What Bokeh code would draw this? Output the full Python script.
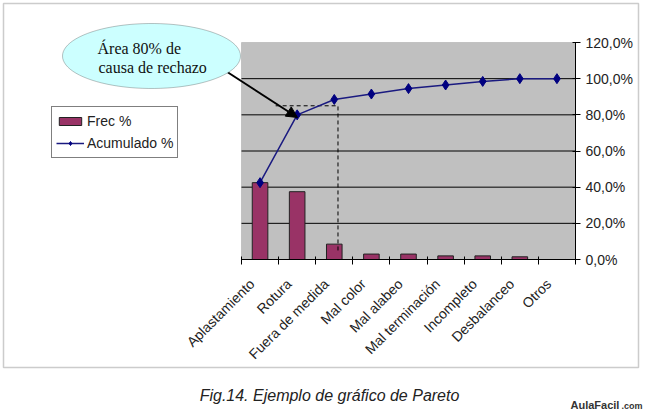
import math
import numpy as np
from bokeh.plotting import figure
from bokeh.models import (Range1d, FixedTicker, CustomJSTickFormatter, Legend, LegendItem,
                          Label, PolyAnnotation, Arrow, NormalHead, ColumnDataSource,
                          LinearAxis, BoxAnnotation)
from bokeh.embed import file_html
from bokeh.resources import INLINE

# ---- data ----
categories = ["Aplastamiento", "Rotura", "Fuera de medida", "Mal color", "Mal alabeo",
              "Mal terminación", "Incompleto", "Desbalanceo", "Otros"]
frec = [42.5, 37.5, 8.5, 3.0, 3.0, 2.0, 2.0, 1.5, 0.0]
acumulado = [42.5, 80.0, 88.5, 91.5, 94.5, 96.5, 98.5, 100.0, 100.0]
y_ticks = [0, 20, 40, 60, 80, 100, 120]

# ---- layout constants (canvas pixels) ----
W, H = 650, 413
FL, FR, FT, FB = 241, 575, 42, 259   # plot-area left/right/top/bottom in canvas pixels
NCAT = len(categories)
YMAX = 120
LABEL_SHIFT = 0.22                   # category labels sit slightly left of the bar centre

kx = NCAT / (FR - FL)
ky = YMAX / (FB - FT)
x_range = Range1d(-FL * kx, NCAT + (W - FR) * kx)
y_range = Range1d(-(H - FB) * ky, YMAX + FT * ky)


def sx(X):
    return X


def sy(Y):
    return H - Y


xc = [i + 0.5 for i in range(NCAT)]
src = ColumnDataSource(dict(x=xc, frec=frec, acum=acumulado))

p = figure(width=W, height=H, output_backend="svg", toolbar_location=None,
           x_range=x_range, y_range=y_range,
           x_axis_location=None, y_axis_location=None,
           min_border=0, min_border_left=0, min_border_right=0,
           min_border_top=0, min_border_bottom=0)
p.background_fill_color = "white"
p.border_fill_color = "white"
p.outline_line_color = None
p.xgrid.visible = False
p.ygrid.visible = False

# plot area
p.add_layout(BoxAnnotation(left=0, right=NCAT, bottom=0, top=YMAX,
                           fill_color="#c0c0c0", fill_alpha=1,
                           line_color="#808080", line_width=1, level="underlay"))

# horizontal grid lines
gy = y_ticks[1:-1]
p.segment(x0=[0] * len(gy), x1=[NCAT] * len(gy), y0=gy, y1=gy,
          line_color="black", line_width=1)

# y axis (right, fixed at right edge of plot area)
yax = LinearAxis(fixed_location=NCAT, bounds=(0, YMAX))
yax.ticker = FixedTicker(ticks=y_ticks)
yax.formatter = CustomJSTickFormatter(code="return tick.toFixed(1).replace('.', ',') + '%';")
yax.axis_line_color = "black"
yax.major_tick_in = 3
yax.major_tick_out = 5
yax.major_tick_line_color = "black"
yax.minor_tick_line_color = None
yax.major_label_text_font = "Liberation Sans"
yax.major_label_text_font_size = "14px"
yax.major_label_text_color = "#222222"
yax.major_label_standoff = 5
p.add_layout(yax, "right")

# x axis (below, fixed at y = 0)
label_pos = [i + 0.5 - LABEL_SHIFT for i in range(NCAT)]
xax = LinearAxis(fixed_location=0, bounds=(0, NCAT))
xax.ticker = FixedTicker(ticks=label_pos, minor_ticks=list(range(NCAT + 1)))
xax.formatter = CustomJSTickFormatter(args=dict(labels=categories),
                                      code="return labels[Math.floor(tick)];")
xax.major_label_orientation = math.pi / 4
xax.major_tick_in = 0
xax.major_tick_out = 0
xax.minor_tick_in = 3
xax.minor_tick_out = 5
xax.minor_tick_line_color = "black"
xax.axis_line_color = "black"
xax.major_label_text_font = "Liberation Sans"
xax.major_label_text_font_size = "14px"
xax.major_label_text_color = "#222222"
xax.major_label_standoff = 17
p.add_layout(xax, "below")

# bars
bars = p.vbar(x="x", top="frec", width=0.42, source=src, fill_color="#993366",
              line_color="#222222", line_width=1)

# dashed 80% guide (annotation)
gx0, gx1, gy80, gy_end = 0.92, 2.6, 85, 4
p.line([gx0, gx1, gx1], [gy80, gy80, gy_end], line_color="black", line_width=1,
       line_dash="4 3")

# cumulative line
line = p.line(x="x", y="acum", source=src, line_color="#1a1a80", line_width=1.5)
pts = p.scatter(x="x", y="acum", source=src, marker="diamond", size=10,
                fill_color="#000080", line_color="#000080")

# legend
legend = Legend(items=[LegendItem(label="Frec %", renderers=[bars]),
                       LegendItem(label="Acumulado %", renderers=[line, pts])],
                location=(sx(51), sy(158)))
legend.border_line_color = "black"
legend.border_line_width = 1
legend.background_fill_color = "white"
legend.background_fill_alpha = 1
legend.label_text_font = "Liberation Sans"
legend.label_text_font_size = "14px"
legend.label_text_color = "#222222"
legend.glyph_width = 28
legend.glyph_height = 10
legend.label_height = 20
legend.label_standoff = 3
legend.padding = 4
legend.spacing = 2
legend.margin = 0
p.add_layout(legend)

# outer border
bx = [3, 638, 638, 3]
by = [3, 3, 367, 367]
p.add_layout(PolyAnnotation(xs=[sx(v) for v in bx], ys=[sy(v) for v in by],
                            xs_units="screen", ys_units="screen",
                            fill_alpha=0, line_color="#555555", line_width=1.5))

# callout arrow + ellipse
p.add_layout(Arrow(x_start=sx(226), y_start=sy(71), x_end=sx(297), y_end=sy(117),
                   start_units="screen", end_units="screen", line_width=2, line_color="black",
                   end=NormalHead(size=11, fill_color="black", line_color="black")))
t = np.linspace(0, 2 * np.pi, 90, endpoint=False)
ecx, ecy, erx, ery = 151, 55.5, 89, 32.5
ex = ecx + erx * np.cos(t)
ey = ecy + ery * np.sin(t)
p.add_layout(PolyAnnotation(xs=[sx(v) for v in ex], ys=[sy(v) for v in ey],
                            xs_units="screen", ys_units="screen",
                            fill_color="#ccffff", fill_alpha=1,
                            line_color="#333333", line_width=1))
p.add_layout(Label(x=sx(97), y=sy(48), x_units="screen", y_units="screen",
                   text="Área 80%  de", text_font="Liberation Serif", text_font_size="16px",
                   text_baseline="middle", text_color="#111111"))
p.add_layout(Label(x=sx(98), y=sy(67), x_units="screen", y_units="screen",
                   text="causa de rechazo", text_font="Liberation Serif", text_font_size="16px",
                   text_baseline="middle", text_color="#111111"))

# caption and watermark
p.add_layout(Label(x=sx(329), y=sy(395), x_units="screen", y_units="screen",
                   text="Fig.14. Ejemplo de gráfico de Pareto", text_font="Liberation Sans",
                   text_font_style="italic", text_font_size="16px", text_align="center",
                   text_baseline="middle", text_color="#222222"))
p.add_layout(Label(x=sx(570), y=sy(404), x_units="screen", y_units="screen",
                   text="AulaFacil", text_font="Liberation Sans", text_font_style="bold",
                   text_font_size="11px", text_baseline="middle", text_color="#333333"))
p.add_layout(Label(x=sx(621), y=sy(405), x_units="screen", y_units="screen",
                   text=".com", text_font="Liberation Sans", text_font_style="bold",
                   text_font_size="9px", text_baseline="middle", text_color="#333333"))

open("out.html", "w").write(file_html(p, INLINE))
